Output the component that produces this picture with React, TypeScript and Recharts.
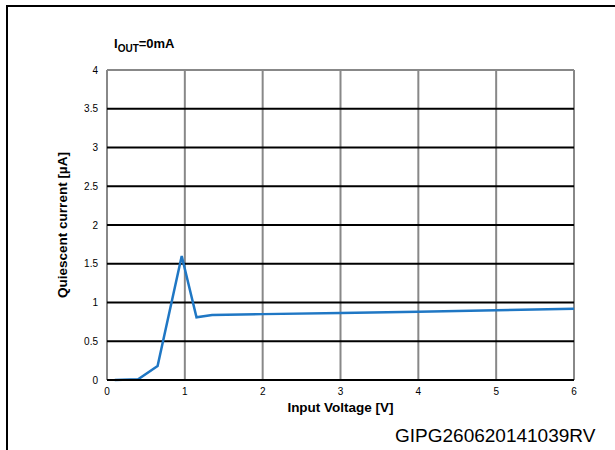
import React from 'react';
import { LineChart, Line, XAxis, YAxis, CartesianGrid, ReferenceLine } from 'recharts';

const voltage = [0.1, 0.4, 0.65, 0.96, 1.15, 1.35, 2, 3, 4, 5, 6];
const current = [0, 0.01, 0.18, 1.6, 0.81, 0.84, 0.85, 0.865, 0.88, 0.9, 0.92];
const xTicks = [0, 1, 2, 3, 4, 5, 6];
const yTicks = [0, 0.5, 1, 1.5, 2, 2.5, 3, 3.5, 4];

const data = voltage.map((v, i) => ({ v, i: current[i] }));

const font = '"Liberation Sans", Arial, sans-serif';

const App: React.FC = () => {
  return (
    <div style={{ position: 'absolute', left: 0, top: 0, width: 615, height: 450, background: '#fff', fontFamily: font }}>
      <div style={{ position: 'absolute', left: 6, top: 5, width: 2, height: 445, background: '#000' }} />
      <div style={{ position: 'absolute', left: 6, top: 5, width: 609, height: 2, background: '#000' }} />
      <div style={{ position: 'absolute', left: 114, top: 36, fontSize: 13, fontWeight: 'bold', lineHeight: '15px' }}>
        I<sub style={{ fontSize: 10 }}>OUT</sub>=0mA
      </div>
      <div style={{ position: 'absolute', left: 395, top: 425, fontSize: 19 }}>GIPG260620141039RV</div>
      <LineChart width={615} height={450} data={data} margin={{ top: 70, right: 41, bottom: 0, left: 0 }}>
        <CartesianGrid horizontal={false} verticalValues={xTicks} stroke="#888" strokeWidth={2} />
        <CartesianGrid vertical={false} horizontalValues={[0.5, 1, 1.5, 2, 2.5, 3, 3.5]} stroke="#000" strokeWidth={2} />
        <ReferenceLine y={4} stroke="#888" strokeWidth={2} />
        <XAxis
          type="number"
          dataKey="v"
          domain={[0, 6]}
          ticks={xTicks}
          height={70}
          tickLine={false}
          tickSize={0}
          tickMargin={8}
          axisLine={{ stroke: '#000', strokeWidth: 2 }}
          tick={{ fill: '#000', fontSize: 10, fontFamily: font }}
          label={{ value: 'Input Voltage [V]', position: 'insideTop', offset: 22, fill: '#000', fontSize: 13.5, fontWeight: 'bold', fontFamily: font }}
        />
        <YAxis
          type="number"
          domain={[0, 4]}
          ticks={yTicks}
          width={107}
          tickLine={false}
          tickSize={0}
          tickMargin={9}
          axisLine={false}
          tick={{ fill: '#000', fontSize: 10, fontFamily: font }}
          label={{ value: 'Quiescent current [µA]', angle: -90, position: 'center', dx: 9, fill: '#000', fontSize: 13.5, fontWeight: 'bold', fontFamily: font }}
        />
        <Line type="linear" dataKey="i" stroke="#1f77c4" strokeWidth={2.5} dot={false} isAnimationActive={false} />
      </LineChart>
    </div>
  );
};

export default App;
